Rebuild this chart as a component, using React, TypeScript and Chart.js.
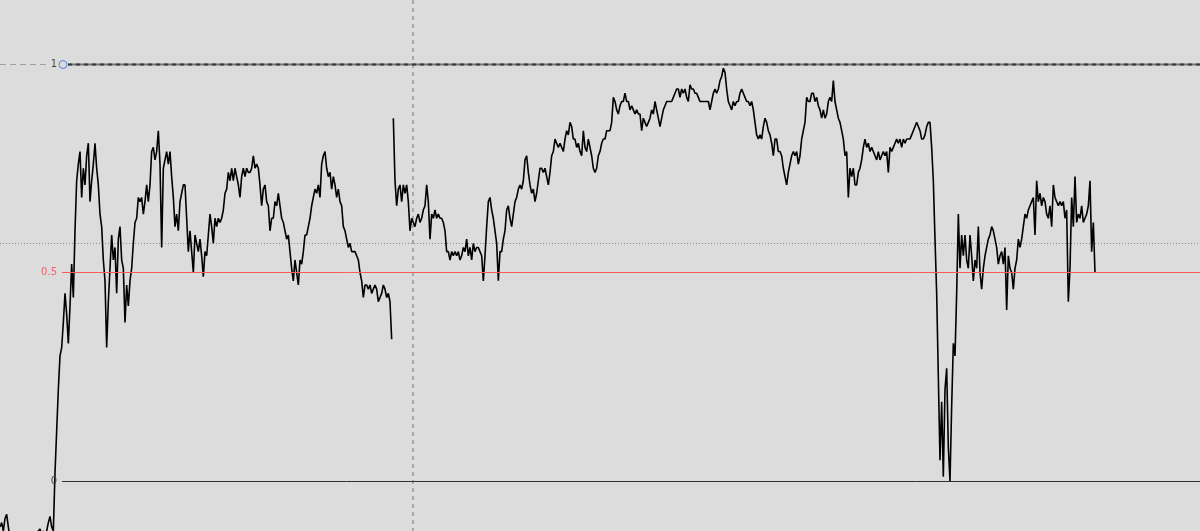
import { useEffect, useRef } from "react";
import { Chart, registerables } from "chart.js";

Chart.register(...registerables);

// Oscillator values, one per bar
const values: number[] = [
  -0.11, -0.10, -0.12, -0.09, -0.08, -0.11,
  -0.14, -0.15, -0.14, -0.16, -0.15, -0.14, -0.15, -0.16, -0.15, -0.14, -0.15, -0.14, -0.15, -0.14, -0.13, -0.14, -0.13,
  -0.12, -0.115, -0.13, -0.12, -0.13, -0.12, -0.10, -0.085, -0.11, -0.12,
  0.02, 0.12, 0.22, 0.30, 0.32, 0.38, 0.45,
  0.40, 0.33, 0.42, 0.52, 0.44, 0.60, 0.72, 0.76, 0.79, 0.68,
  0.75, 0.71, 0.78, 0.81, 0.67, 0.72, 0.76, 0.81, 0.75, 0.71,
  0.64, 0.61, 0.53, 0.48, 0.32, 0.43, 0.51, 0.59, 0.53, 0.56,
  0.45, 0.58, 0.61, 0.53, 0.51, 0.38, 0.47, 0.42, 0.48, 0.51,
  0.57, 0.62, 0.63, 0.68, 0.67, 0.68, 0.64, 0.67, 0.71, 0.67,
  0.71, 0.79, 0.80, 0.77, 0.79, 0.84, 0.76, 0.56, 0.75, 0.77,
  0.79, 0.76, 0.79, 0.73, 0.68, 0.61, 0.64, 0.60, 0.67, 0.69,
  0.71, 0.71, 0.63, 0.55, 0.60, 0.55, 0.50, 0.59, 0.57, 0.55,
  0.58, 0.54, 0.49, 0.55, 0.54, 0.59, 0.64, 0.61, 0.57, 0.63,
  0.61, 0.63, 0.62, 0.63, 0.65, 0.69, 0.70, 0.74, 0.72, 0.75,
  0.72, 0.75, 0.73, 0.71, 0.68, 0.73, 0.75, 0.73, 0.75, 0.74,
  0.74, 0.75, 0.78, 0.75, 0.76, 0.75, 0.71, 0.66, 0.70, 0.71,
  0.67, 0.66, 0.60, 0.63, 0.63, 0.67, 0.66, 0.69, 0.66, 0.63,
  0.62, 0.60, 0.58, 0.59, 0.55, 0.51, 0.48, 0.53, 0.50, 0.47,
  0.53, 0.52, 0.55, 0.59, 0.59, 0.61, 0.63, 0.66, 0.68, 0.70,
  0.69, 0.71, 0.68, 0.76, 0.78, 0.79, 0.75, 0.73, 0.74, 0.70,
  0.73, 0.71, 0.68, 0.70, 0.67, 0.66, 0.61, 0.60, 0.58, 0.56,
  0.57, 0.55, 0.55, 0.55, 0.54, 0.53, 0.50, 0.48, 0.44, 0.47,
  0.47, 0.46, 0.47, 0.45, 0.46, 0.47, 0.46, 0.43, 0.44, 0.45,
  0.47, 0.46, 0.44, 0.45, 0.43, 0.34,
  0.87, 0.72, 0.66, 0.70,
  0.71, 0.67, 0.71, 0.69, 0.71, 0.67, 0.60, 0.63, 0.62, 0.61,
  0.63, 0.64, 0.62, 0.63, 0.65, 0.66, 0.71, 0.67, 0.58, 0.64,
  0.63, 0.65, 0.63, 0.64, 0.63, 0.63, 0.62, 0.60, 0.55, 0.55,
  0.53, 0.55, 0.54, 0.55, 0.54, 0.55, 0.53, 0.54, 0.56, 0.55,
  0.58, 0.54, 0.56, 0.53, 0.57, 0.55, 0.56, 0.56, 0.55, 0.54,
  0.48, 0.54, 0.61, 0.67, 0.68, 0.65, 0.63, 0.60, 0.57, 0.48,
  0.55, 0.55, 0.58, 0.60, 0.65, 0.66, 0.63, 0.61, 0.64, 0.67,
  0.68, 0.70, 0.71, 0.70, 0.72, 0.77, 0.78, 0.74, 0.71, 0.69,
  0.70, 0.67, 0.69, 0.72, 0.75, 0.75, 0.74, 0.75, 0.73, 0.71,
  0.74, 0.78, 0.79, 0.82, 0.81, 0.80, 0.81, 0.80, 0.79, 0.82,
  0.84, 0.83, 0.86, 0.85, 0.82, 0.82, 0.80, 0.81, 0.79, 0.78,
  0.84, 0.80, 0.79, 0.82, 0.80, 0.78, 0.75, 0.74, 0.75, 0.78,
  0.79, 0.81, 0.82, 0.82, 0.84, 0.84, 0.84, 0.86, 0.92, 0.91,
  0.89, 0.88, 0.90, 0.91, 0.91, 0.93, 0.91, 0.91, 0.89, 0.90,
  0.89, 0.88, 0.89, 0.88, 0.88, 0.84, 0.87, 0.86, 0.85, 0.86,
  0.87, 0.89, 0.88, 0.91, 0.89, 0.87, 0.85, 0.87, 0.89, 0.90,
  0.91, 0.91, 0.91, 0.91, 0.92, 0.93, 0.94, 0.94, 0.92, 0.94,
  0.93, 0.94, 0.92, 0.91, 0.95, 0.94, 0.94, 0.93, 0.93, 0.92,
  0.91, 0.91, 0.91, 0.91, 0.91, 0.91, 0.89, 0.91, 0.93, 0.94,
  0.93, 0.94, 0.96, 0.97, 0.99, 0.98, 0.94, 0.91, 0.90, 0.89,
  0.91, 0.90, 0.91, 0.91, 0.93, 0.94, 0.93, 0.92, 0.91, 0.91,
  0.90, 0.91, 0.89, 0.86, 0.83, 0.82, 0.83, 0.82, 0.85, 0.87,
  0.86, 0.84, 0.83, 0.81, 0.78, 0.82, 0.82, 0.79, 0.79, 0.78,
  0.75, 0.73, 0.71, 0.74, 0.76, 0.78, 0.79, 0.78, 0.79, 0.76,
  0.78, 0.82, 0.84, 0.86, 0.92, 0.91, 0.91, 0.93, 0.93, 0.91,
  0.92, 0.90, 0.89, 0.87, 0.89, 0.87, 0.88, 0.91, 0.92, 0.91,
  0.96, 0.91, 0.89, 0.87, 0.86, 0.84, 0.82, 0.78, 0.79, 0.68,
  0.75, 0.73, 0.75, 0.71, 0.71, 0.74, 0.75, 0.77, 0.80, 0.82,
  0.80, 0.81, 0.79, 0.80, 0.79, 0.78, 0.77, 0.79, 0.77, 0.78,
  0.79, 0.78, 0.79, 0.74, 0.80, 0.79, 0.80, 0.81, 0.82, 0.81,
  0.82, 0.80, 0.82, 0.81, 0.82, 0.82, 0.82, 0.83, 0.84, 0.85,
  0.86, 0.85, 0.84, 0.82, 0.82, 0.83, 0.85, 0.86, 0.86, 0.80,
  0.72, 0.58, 0.45, 0.25, 0.05, 0.19, 0.01, 0.22, 0.27, 0.08,
  0.00, 0.18, 0.33, 0.30, 0.45, 0.64, 0.51, 0.59, 0.54, 0.59,
  0.53, 0.51, 0.59, 0.54, 0.48, 0.53, 0.51, 0.61, 0.50, 0.46,
  0.51, 0.54, 0.56, 0.58, 0.59, 0.61, 0.60, 0.58, 0.56, 0.52,
  0.54, 0.55, 0.52, 0.56, 0.41, 0.54, 0.51, 0.50, 0.46, 0.51,
  0.53, 0.58, 0.56, 0.58, 0.61, 0.64, 0.63, 0.65, 0.66, 0.67,
  0.68, 0.59, 0.72, 0.67, 0.69, 0.66, 0.68, 0.67, 0.64, 0.63,
  0.66, 0.61, 0.71, 0.68, 0.67, 0.66, 0.67, 0.66, 0.67, 0.63,
  0.65, 0.43, 0.51, 0.68, 0.61, 0.73, 0.62, 0.64, 0.63, 0.66,
  0.62, 0.63, 0.64, 0.66, 0.72, 0.55, 0.62, 0.50,
];

// the series breaks after this bar
const gapAfter: number[] = [235];

// level lines and their labels
const levels: number[] = [1, 0.5, 0];
const levelLabels: string[] = ["1", "0.5", "0"];
const dottedLevel = 0.571;
const markerBar = 248;

// visible window
const xMin = 0;
const xMax = 720;
const yMin = -0.12;
const yMax = 1.1535;

const BG = "#dcdcdc";

const refPlugin = {
  id: "refLines",
  beforeDraw(chart: any) {
    const { ctx, width, height } = chart;
    ctx.save();
    ctx.fillStyle = BG;
    ctx.fillRect(0, 0, width, height);
    ctx.restore();
  },
  beforeDatasetsDraw(chart: any) {
    const { ctx, chartArea, scales } = chart;
    const y = scales.y;
    const x = scales.x;
    ctx.save();
    const yd = Math.round(y.getPixelForValue(dottedLevel)) + 0.5;
    ctx.strokeStyle = "#8c8c8c";
    ctx.lineWidth = 1;
    ctx.setLineDash([1, 2]);
    ctx.beginPath();
    ctx.moveTo(chartArea.left, yd);
    ctx.lineTo(chartArea.right, yd);
    ctx.stroke();
    const xm = Math.round(x.getPixelForValue(markerBar));
    ctx.strokeStyle = "#a8a8a8";
    ctx.lineWidth = 2;
    ctx.setLineDash([4, 4]);
    ctx.beginPath();
    ctx.moveTo(xm, chartArea.top);
    ctx.lineTo(xm, chartArea.bottom);
    ctx.stroke();
    ctx.restore();
  },
  afterDatasetsDraw(chart: any) {
    const { ctx, chartArea, scales } = chart;
    const y = scales.y;
    ctx.save();
    ctx.font = "10px 'DejaVu Sans', sans-serif";
    ctx.textAlign = "right";
    ctx.textBaseline = "middle";
    levels.forEach((lv, i) => {
      const py = Math.round(y.getPixelForValue(lv)) + 0.5;
      if (lv === 1) {
        ctx.setLineDash([6, 4]);
        ctx.strokeStyle = "#a0a0a0";
        ctx.lineWidth = 1;
        ctx.beginPath();
        ctx.moveTo(chartArea.left, py);
        ctx.lineTo(48, py);
        ctx.stroke();
        ctx.setLineDash([]);
        ctx.strokeStyle = "#707070";
        ctx.lineWidth = 2;
        ctx.beginPath();
        ctx.moveTo(68, py);
        ctx.lineTo(chartArea.right, py);
        ctx.stroke();
        ctx.setLineDash([4, 4]);
        ctx.strokeStyle = "#383838";
        ctx.beginPath();
        ctx.moveTo(68, py);
        ctx.lineTo(chartArea.right, py);
        ctx.stroke();
        ctx.setLineDash([]);
        ctx.strokeStyle = "#5b7fe0";
        ctx.lineWidth = 1;
        ctx.beginPath();
        ctx.arc(63, py, 4, 0, Math.PI * 2);
        ctx.stroke();
        ctx.fillStyle = "#444444";
        ctx.fillText(levelLabels[i], 57, py);
      } else if (lv === 0.5) {
        ctx.setLineDash([]);
        ctx.strokeStyle = "#ff5a5a";
        ctx.lineWidth = 1;
        ctx.beginPath();
        ctx.moveTo(62, py);
        ctx.lineTo(chartArea.right, py);
        ctx.stroke();
        ctx.fillStyle = "#f06070";
        ctx.fillText(levelLabels[i], 57, py);
      } else {
        ctx.setLineDash([]);
        ctx.strokeStyle = "#303030";
        ctx.lineWidth = 1;
        ctx.beginPath();
        ctx.moveTo(62, py);
        ctx.lineTo(chartArea.right, py);
        ctx.stroke();
        ctx.fillStyle = "#444444";
        ctx.fillText(levelLabels[i], 57, py);
      }
    });
    ctx.restore();
  },
};

export default function App() {
  const ref = useRef<HTMLCanvasElement | null>(null);

  useEffect(() => {
    document.body.style.margin = "0";
    document.body.style.background = BG;
    if (!ref.current) return;
    const chart = new Chart(ref.current, {
      type: "line",
      data: {
        datasets: [
          {
            data: values.map((v, i) => ({ x: i, y: v })),
            borderColor: "#000000",
            borderWidth: 1.6,
            borderJoinStyle: "bevel",
            pointRadius: 0,
            tension: 0,
            fill: false,
            segment: {
              borderColor: (c: any) =>
                gapAfter.includes(c.p0DataIndex) ? "rgba(0,0,0,0)" : undefined,
            },
          },
        ],
      },
      options: {
        animation: false,
        responsive: false,
        devicePixelRatio: 1,
        events: [],
        layout: { padding: 0 },
        plugins: {
          legend: { display: false },
          tooltip: { enabled: false },
          title: { display: false },
        },
        scales: {
          x: { type: "linear", min: xMin, max: xMax, display: false },
          y: { type: "linear", min: yMin, max: yMax, display: false },
        },
      },
      plugins: [refPlugin],
    });
    return () => chart.destroy();
  }, []);

  return (
    <div style={{ width: 1200, height: 531, background: BG }}>
      <canvas ref={ref} width={1200} height={531} style={{ display: "block", width: 1200, height: 531 }} />
    </div>
  );
}
